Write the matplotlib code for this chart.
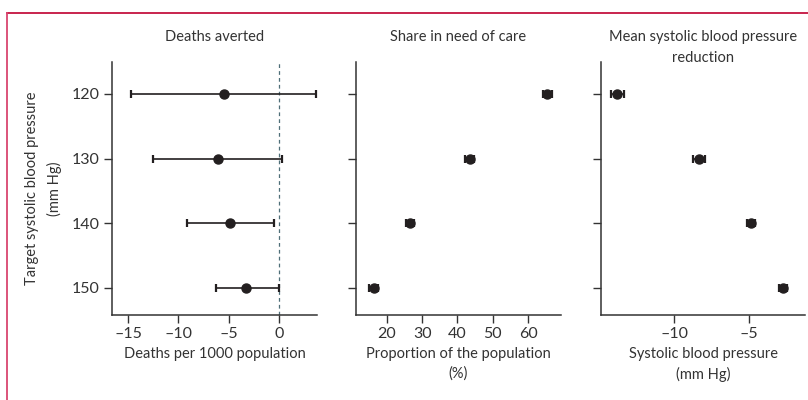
import matplotlib
matplotlib.use("Agg")
import matplotlib.pyplot as plt
from matplotlib.lines import Line2D

plt.rcParams['font.family'] = ['Lato', 'DejaVu Sans']

targets = [120, 130, 140, 150]

deaths_mean = [-5.5, -6.1, -4.9, -3.25]
deaths_low = [-14.7, -12.55, -9.15, -6.3]
deaths_high = [3.7, 0.25, -0.55, -0.05]

share_mean = [65.4, 43.4, 26.6, 16.3]
share_low = [64.2, 42.2, 25.4, 15.1]
share_high = [66.6, 44.6, 27.8, 17.5]

sbp_mean = [-13.85, -8.38, -4.88, -2.73]
sbp_low = [-14.25, -8.78, -5.16, -3.0]
sbp_high = [-13.4, -7.98, -4.6, -2.46]

titles = ["Deaths averted", "Share in need of care", "Mean systolic blood pressure\nreduction"]
xlabels = ["Deaths per 1000 population", "Proportion of the population\n(%)", "Systolic blood pressure\n(mm Hg)"]
ylabel = "Target systolic blood pressure\n(mm Hg)"

ink = "#231f20"
txt = "#333333"

fig = plt.figure(figsize=(8.08, 4.0), dpi=100)

W, H = 808, 400
def ax_rect(l, r, t, b):
    return [l / W, 1 - b / H, (r - l) / W, (b - t) / H]

axes = [
    fig.add_axes(ax_rect(112, 317, 62, 315)),
    fig.add_axes(ax_rect(355.7, 560.7, 62, 315)),
    fig.add_axes(ax_rect(600.7, 805.5, 62, 315)),
]

data = [
    (deaths_mean, deaths_low, deaths_high, (-16.6, 3.75), [-15, -10, -5, 0]),
    (share_mean, share_low, share_high, (11.2, 69.2), [20, 30, 40, 50, 60]),
    (sbp_mean, sbp_low, sbp_high, (-14.95, -1.2), [-10, -5]),
]

for i, (ax, (m, lo, hi, xl, xt)) in enumerate(zip(axes, data)):
    err = [[mm - l for mm, l in zip(m, lo)], [h - mm for mm, h in zip(m, hi)]]
    ax.errorbar(m, targets, xerr=err, fmt='o', color=ink, ecolor=ink,
                markersize=6.5, elinewidth=1.2, capsize=3.2, capthick=1.6,
                zorder=3, clip_on=False)
    ax.set_xlim(*xl)
    ax.set_ylim(154.2, 115.05)
    ax.set_xticks(xt)
    ax.set_xticklabels([("\u2013" + str(abs(v))) if v < 0 else str(v) for v in xt])
    ax.set_yticks(targets)
    if i == 0:
        ax.set_yticklabels([str(t) for t in targets])
        ax.set_ylabel(ylabel, fontsize=10.5, color=txt, labelpad=7, linespacing=1.65)
        ax.axvline(0, color="#4f6f78", linestyle=(0, (3, 2.5)), linewidth=0.9, zorder=1)
    else:
        ax.set_yticklabels([])
    for s in ["top", "right"]:
        ax.spines[s].set_visible(False)
    for s in ["left", "bottom"]:
        ax.spines[s].set_color(txt)
        ax.spines[s].set_linewidth(1.1)
    ax.tick_params(axis='both', direction='out', length=6, width=1.0, color=txt,
                   labelsize=11.5, labelcolor=txt, pad=3)
    ax.set_xlabel(xlabels[i], fontsize=10.5, color=txt, labelpad=4, linespacing=1.5)

centers = [(112 + 317) / 2, (355.7 + 560.7) / 2, (600.7 + 805.5) / 2]
for c, t in zip(centers, titles):
    fig.text(c / W, 1 - 30 / H, t, ha='center', va='top', fontsize=10.5,
             color=txt, linespacing=1.6)

# border lines (top and left)
fig.add_artist(Line2D([6.5 / W, 1.0], [1 - 12.5 / H, 1 - 12.5 / H], transform=fig.transFigure,
                      color="#c4123f", linewidth=1.3))
fig.add_artist(Line2D([6.5 / W, 6.5 / W], [0, 1 - 12.5 / H], transform=fig.transFigure,
                      color="#d9456f", linewidth=1.3))

fig.savefig("out.png", dpi=100)
